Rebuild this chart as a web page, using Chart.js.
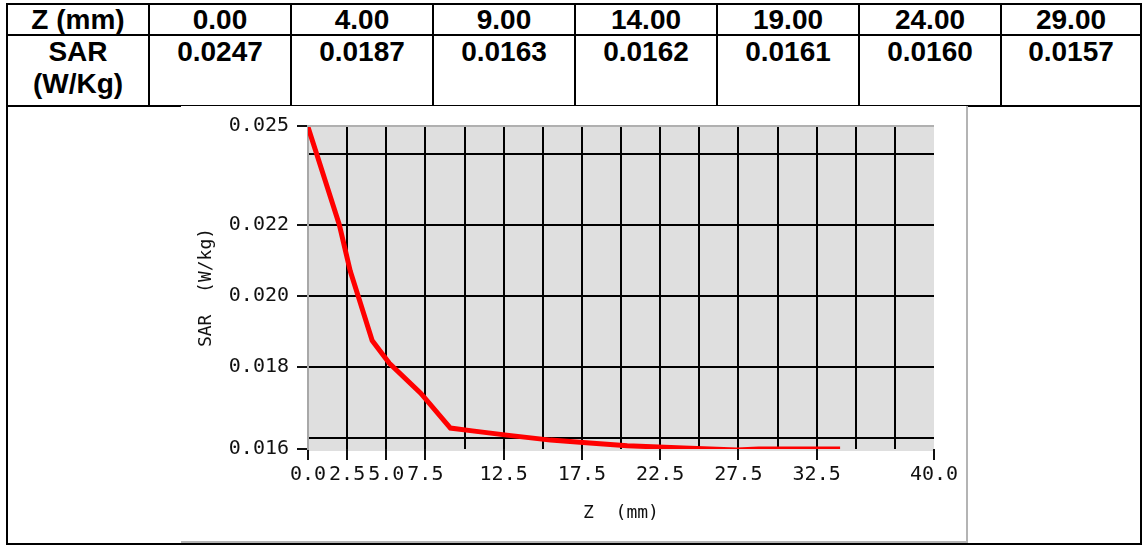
<!DOCTYPE html>
<html>
<head>
<meta charset="utf-8">
<script src="https://cdn.jsdelivr.net/npm/chart.js@4.4.1/dist/chart.umd.min.js"></script>
<style>
  html, body { margin: 0; padding: 0; background: #fff; width: 1142px; height: 545px; overflow: hidden; }
  #tbl { position: absolute; left: 6px; top: 3px; border-collapse: collapse; table-layout: fixed; }
  #tbl td, #tbl th { border: 2px solid #000; padding: 0; text-align: center; vertical-align: top;
    font-family: "Liberation Sans", Arial, sans-serif; font-weight: bold; font-size: 28px; color: #000; }
  #tbl tr.r1 td, #tbl tr.r1 th { height: 29px; line-height: 29px; }
  #tbl tr.r2 td, #tbl tr.r2 th { height: 69px; line-height: 32px; }
  #tbl tr.r3 td { height: 436px; }
  #frame { position: absolute; left: 181px; top: 106px; width: 785px; height: 435px;
    border-right: 2px solid #b4b4b4; border-bottom: 2px solid #b4b4b4; background: #fff; }
  #chart { position: absolute; left: 0; top: 0; }
</style>
</head>
<body>
<table id="tbl"></table>
<div id="frame"><canvas id="chart" width="785" height="435"></canvas></div>
<script>
// ---- table data ----
const tableZ = ['0.00', '4.00', '9.00', '14.00', '19.00', '24.00', '29.00'];
const tableSAR = ['0.0247', '0.0187', '0.0163', '0.0162', '0.0161', '0.0160', '0.0157'];
const tableHeadZ = 'Z (mm)';
const tableHeadSAR = 'SAR<br>(W/Kg)';

// ---- chart data ----
const zValues   = [0, 0.55, 2.0, 2.7, 3.2, 4.1, 5.2, 7.2, 9.1, 10.5, 12.7, 15.5, 18.0, 20.4, 24.0, 27.4, 28.8, 34.0];
const sarValues = [0.02475, 0.0240, 0.0220, 0.0207, 0.0200, 0.01874, 0.0181, 0.01726, 0.01628, 0.0162, 0.01608, 0.01594, 0.01586, 0.01578, 0.01572, 0.01566, 0.01569, 0.01569];

// ---- axis ticks ----
const xTickValues = [0, 2.5, 5, 7.5, 10, 12.5, 15, 17.5, 20, 22.5, 25, 27.5, 30, 32.5, 35, 37.5, 40];
const xTickLabels = ['0.0', '2.5', '5.0', '7.5', '', '12.5', '', '17.5', '', '22.5', '', '27.5', '', '32.5', '', '', '40.0'];
const yTickValues = [0.01569, 0.016, 0.018, 0.020, 0.022, 0.024, 0.02478];
const yTickLabels = ['0.016', '', '0.018', '0.020', '0.022', '', '0.025'];
const xTitle = 'Z  (mm)';
const yTitle = 'SAR  (W/kg)';

// build table
const colW = [142, 142, 142, 142, 142, 142, 142, 140];
let html = '<colgroup>' + colW.map(w => '<col style="width:' + w + 'px">').join('') + '</colgroup>';
html += '<tr class="r1"><td>' + tableHeadZ + '</td>' + tableZ.map(v => '<td>' + v + '</td>').join('') + '</tr>';
html += '<tr class="r2"><td>' + tableHeadSAR + '</td>' + tableSAR.map(v => '<td>' + v + '</td>').join('') + '</tr>';
html += '<tr class="r3"><td colspan="8"></td></tr>';
document.getElementById('tbl').innerHTML = html;

const FONT = "'DejaVu Sans Mono', 'Liberation Mono', monospace";
const INK = '#111';

const plotBg = {
  id: 'plotBg',
  beforeDraw(chart) {
    const { ctx, chartArea: a } = chart;
    ctx.save();
    ctx.fillStyle = '#dfdfdf';
    ctx.fillRect(a.left, a.top, a.right - a.left, a.bottom - a.top + 2);
    ctx.restore();
  },
  afterDraw(chart) {
    const { ctx, chartArea: a } = chart;
    ctx.save();
    ctx.strokeStyle = '#b0b0b0';
    ctx.lineWidth = 2;
    ctx.beginPath();
    ctx.moveTo(a.left, a.top);
    ctx.lineTo(a.right, a.top);
    ctx.stroke();
    ctx.restore();
  }
};

new Chart(document.getElementById('chart'), {
  type: 'line',
  data: {
    datasets: [{
      data: zValues.map((z, i) => ({ x: z, y: sarValues[i] })),
      borderColor: '#ff0000',
      borderWidth: 5,
      pointRadius: 0,
      tension: 0,
      fill: false
    }]
  },
  options: {
    responsive: false,
    animation: false,
    devicePixelRatio: 1,
    layout: { padding: { left: 0, top: 18, right: 32, bottom: 0 } },
    plugins: { legend: { display: false }, tooltip: { enabled: false } },
    scales: {
      x: {
        type: 'linear',
        min: 0, max: 40,
        afterBuildTicks: s => { s.ticks = xTickValues.map(v => ({ value: v })); },
        afterFit: s => { s.height = 92; },
        border: { display: false },
        grid: {
          lineWidth: 2,
          color: c => (c.index === 0 || c.index === xTickValues.length - 1) ? 'rgba(0,0,0,0)' : '#000',
          tickColor: c => xTickLabels[c.index] ? INK : 'rgba(0,0,0,0)',
          tickLength: 11,
          drawTicks: true
        },
        ticks: {
          autoSkip: false, maxRotation: 0, minRotation: 0,
          padding: 3,
          color: INK,
          font: { family: FONT, size: 20 },
          callback: (v, i) => xTickLabels[i]
        },
        title: {
          display: true, text: xTitle, color: INK,
          font: { family: FONT, size: 18 },
          padding: { top: 0, bottom: 17 }
        }
      },
      y: {
        type: 'linear',
        min: 0.01569, max: 0.02478,
        afterBuildTicks: s => { s.ticks = yTickValues.map(v => ({ value: v })); },
        afterFit: s => { s.width = 127; },
        border: { display: true, color: '#a8a8a8', width: 2 },
        grid: {
          lineWidth: 2,
          color: c => (c.index === 0 || c.index === yTickValues.length - 1) ? 'rgba(0,0,0,0)' : '#000',
          tickColor: c => yTickLabels[c.index] ? INK : 'rgba(0,0,0,0)',
          tickLength: 11,
          drawTicks: true
        },
        ticks: {
          autoSkip: false,
          padding: 8,
          color: INK,
          font: { family: FONT, size: 20 },
          callback: (v, i) => yTickLabels[i]
        },
        title: {
          display: true, text: yTitle, color: INK,
          font: { family: FONT, size: 18 },
          padding: { top: 15, bottom: 0 }
        }
      }
    }
  },
  plugins: [plotBg]
});
</script>
</body>
</html>
